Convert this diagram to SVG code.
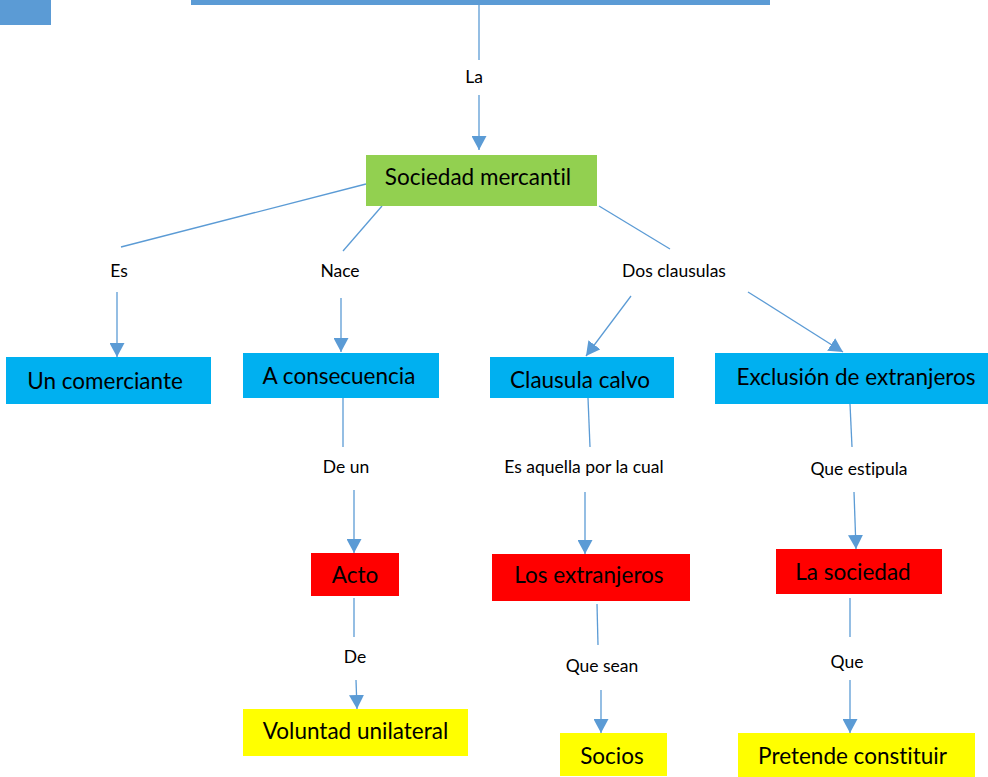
<svg xmlns="http://www.w3.org/2000/svg" width="988" height="777" viewBox="0 0 988 777">
<defs>
<marker id="arr" markerUnits="userSpaceOnUse" markerWidth="15" markerHeight="15" refX="14" refY="7.5" orient="auto"><path d="M0,0 L14,7.5 L0,15 z" fill="#5b9bd5"/></marker>
<style>
.c line{stroke:#5b9bd5;stroke-width:1.3;fill:none}
.a{marker-end:url(#arr)}
.box{font-family:Lato,"Open Sans",sans-serif;font-size:22.5px;fill:#000;text-anchor:middle;font-variant-ligatures:none}
.lab{font-family:Lato,"Open Sans",sans-serif;font-size:17.5px;fill:#000;text-anchor:middle;font-variant-ligatures:none}
.g{fill:#92d050}.b{fill:#00b0f0}.r{fill:#ff0000}.y{fill:#ffff00}
</style>
</defs>
<rect x="0" y="0" width="51" height="25" fill="#5b9bd5"/>
<rect x="191" y="0" width="579" height="5" fill="#5b9bd5"/>
<g class="c" id="connectors">
<line x1="479" y1="5" x2="479" y2="60"/>
<line class="a" x1="479" y1="95" x2="479" y2="150"/>
<line x1="366" y1="184" x2="121" y2="247"/>
<line class="a" x1="117" y1="292" x2="117" y2="357"/>
<line x1="382" y1="206" x2="343" y2="251"/>
<line class="a" x1="341" y1="298" x2="341" y2="352"/>
<line x1="599" y1="206" x2="670" y2="249"/>
<line class="a" x1="631" y1="296" x2="586" y2="356"/>
<line class="a" x1="748" y1="292" x2="843" y2="352"/>
<line x1="343" y1="398" x2="343" y2="447"/>
<line class="a" x1="354" y1="490" x2="354" y2="553"/>
<line x1="354" y1="598" x2="354" y2="637"/>
<line class="a" x1="356" y1="680" x2="357" y2="709"/>
<line x1="588" y1="398" x2="590" y2="447"/>
<line class="a" x1="585" y1="492" x2="585" y2="554"/>
<line x1="597" y1="604" x2="598" y2="645"/>
<line class="a" x1="601" y1="690" x2="601" y2="733"/>
<line x1="850" y1="404" x2="852" y2="447"/>
<line class="a" x1="854" y1="492" x2="856" y2="549"/>
<line x1="850" y1="598" x2="850" y2="637"/>
<line class="a" x1="850" y1="680" x2="850" y2="733"/>
</g>
<g id="labels">
<text class="lab" x="474" y="83">La</text>
<text class="lab" x="119" y="277">Es</text>
<text class="lab" x="340" y="277">Nace</text>
<text class="lab" x="674" y="277">Dos clausulas</text>
<text class="lab" x="346" y="473">De un</text>
<text class="lab" x="355" y="663">De</text>
<text class="lab" x="584" y="473">Es aquella por la cual</text>
<text class="lab" x="859" y="475">Que estipula</text>
<text class="lab" x="602" y="672">Que sean</text>
<text class="lab" x="847" y="668">Que</text>
</g>
<g id="n-sociedad"><rect class="g" x="366" y="155" width="231" height="51"/><text class="box" x="478" y="185">Sociedad mercantil</text></g>
<g id="n-comerciante"><rect class="b" x="6" y="357" width="205" height="47"/><text class="box" x="105" y="389">Un comerciante</text></g>
<g id="n-consecuencia"><rect class="b" x="243" y="353" width="196" height="45"/><text class="box" x="339" y="384">A consecuencia</text></g>
<g id="n-calvo"><rect class="b" x="490" y="357" width="184" height="41"/><text class="box" x="580" y="388">Clausula calvo</text></g>
<g id="n-exclusion"><rect class="b" x="715" y="353" width="273" height="51"/><text class="box" x="856" y="385">Exclusión de extranjeros</text></g>
<g id="n-acto"><rect class="r" x="311" y="553" width="88" height="43"/><text class="box" x="355" y="583">Acto</text></g>
<g id="n-voluntad"><rect class="y" x="243" y="709" width="225" height="47"/><text class="box" x="355.5" y="739">Voluntad unilateral</text></g>
<g id="n-extranjeros"><rect class="r" x="492" y="554" width="198" height="47"/><text class="box" x="589" y="583">Los extranjeros</text></g>
<g id="n-lasociedad"><rect class="r" x="776" y="549" width="166" height="45"/><text class="box" x="853" y="580">La sociedad</text></g>
<g id="n-socios"><rect class="y" x="560" y="733" width="107" height="43"/><text class="box" x="612" y="764">Socios</text></g>
<g id="n-pretende"><rect class="y" x="738" y="733" width="237" height="44"/><text class="box" x="852.5" y="764">Pretende constituir</text></g>
</svg>
